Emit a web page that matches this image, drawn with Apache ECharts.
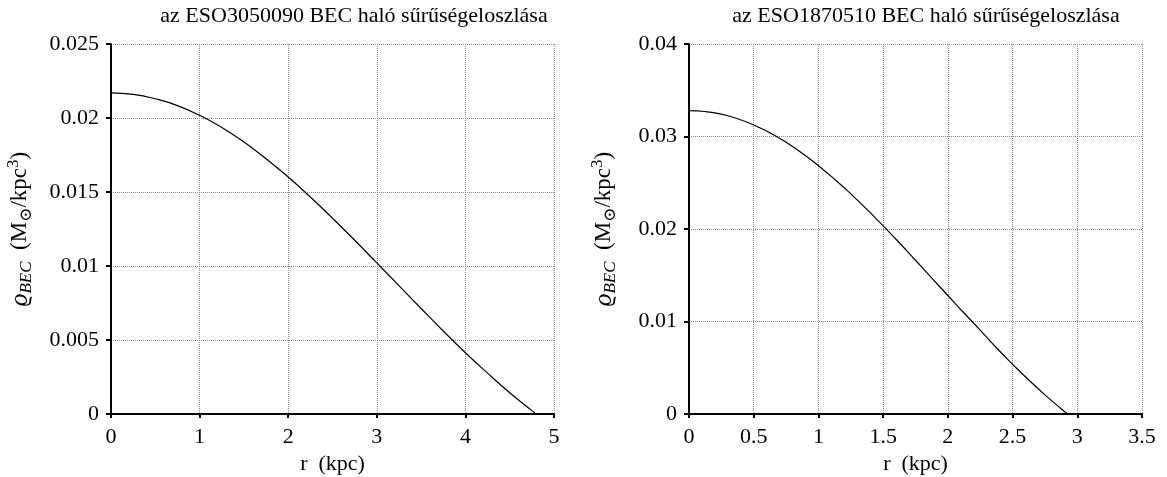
<!DOCTYPE html>
<html>
<head>
<meta charset="utf-8">
<script src="https://cdn.jsdelivr.net/npm/echarts@6/dist/echarts.min.js"></script>
<style>html,body{margin:0;padding:0;background:#fff}#c{width:1167px;height:477px}</style>
</head>
<body>
<div id="c"></div>
<script>
// Left panel: ESO3050090
const leftTitle = 'az ESO3050090 BEC haló sűrűségeloszlása';
const leftR   = [0, 0.25, 0.5, 0.75, 1, 1.25, 1.5, 1.75, 2, 2.25, 2.5, 2.75, 3, 3.25, 3.5, 3.75, 4, 4.25, 4.5, 4.75, 4.8];
const leftRho = [0.0217, 0.0216, 0.0213, 0.02084, 0.02018, 0.01936, 0.01838, 0.01725, 0.01601, 0.01466, 0.01323, 0.01174, 0.01021, 0.00867, 0.00713, 0.00561, 0.00414, 0.00276, 0.00144, 0.00023, 0];
// Right panel: ESO1870510
const rightTitle = 'az ESO1870510 BEC haló sűrűségeloszlása';
const rightR   = [0, 0.125, 0.25, 0.375, 0.5, 0.625, 0.75, 0.875, 1, 1.125, 1.25, 1.375, 1.5, 1.625, 1.75, 1.875, 2, 2.125, 2.25, 2.375, 2.5, 2.625, 2.75, 2.875, 2.925];
const rightRho = [0.0328, 0.0327, 0.03241, 0.03192, 0.03125, 0.0304, 0.02937, 0.02818, 0.02684, 0.02538, 0.0238, 0.02212, 0.02034, 0.01851, 0.01662, 0.01471, 0.01281, 0.01092, 0.00907, 0.00716, 0.00538, 0.00368, 0.00207, 0.00057, 0];
// Axis settings
const xLabel = 'r  (kpc)';
const leftX  = {min: 0, max: 5, interval: 1};
const leftY  = {min: 0, max: 0.025, interval: 0.005};
const rightX = {min: 0, max: 3.5, interval: 0.5};
const rightY = {min: 0, max: 0.04, interval: 0.01};

const FONT = '"Liberation Serif", "DejaVu Serif", serif';
const chart = echarts.init(document.getElementById('c'), null, {renderer: 'canvas'});

function pairs(xs, ys) { return xs.map((x, i) => [x, ys[i]]); }

const yName = '{rho|ϱ}{sub|BEC}{n|  (M}{sub|⊙}{n|/kpc}{sup|3}{n|)}';
const yNameRich = {
  rho: {fontFamily: FONT, fontSize: 25, fontStyle: 'italic', color: '#000', lineHeight: 30, verticalAlign: 'middle'},
  sub: {fontFamily: FONT, fontSize: 17, fontStyle: 'italic', color: '#000', lineHeight: 17, verticalAlign: 'bottom'},
  n:   {fontFamily: FONT, fontSize: 23, color: '#000', lineHeight: 30, verticalAlign: 'middle'},
  sup: {fontFamily: FONT, fontSize: 17, color: '#000', lineHeight: 17, verticalAlign: 'top'}
};

function xAxis(idx, cfg) {
  return {
    type: 'value', gridIndex: idx, min: cfg.min, max: cfg.max, interval: cfg.interval,
    name: xLabel, nameLocation: 'middle', nameGap: 39,
    nameTextStyle: {fontFamily: FONT, fontSize: 22, color: '#000'},
    axisLine: {show: true, onZero: false, lineStyle: {color: '#000', width: 2}},
    axisTick: {show: true, inside: false, length: 4, lineStyle: {color: '#000', width: 2}},
    axisLabel: {fontFamily: FONT, fontSize: 22, color: '#000', margin: 12},
    splitLine: {show: true, lineStyle: {color: '#888', width: 1, type: [1, 1]}}
  };
}
function yAxis(idx, cfg, gap) {
  return {
    type: 'value', gridIndex: idx, min: cfg.min, max: cfg.max, interval: cfg.interval,
    name: yName, nameLocation: 'middle', nameGap: gap, nameRotate: 90,
    nameTextStyle: {rich: yNameRich},
    axisLine: {show: true, onZero: false, lineStyle: {color: '#000', width: 2}},
    axisTick: {show: true, inside: false, length: 5, lineStyle: {color: '#000', width: 2}},
    axisLabel: {fontFamily: FONT, fontSize: 22, color: '#000', margin: 12},
    splitLine: {show: true, lineStyle: {color: '#888', width: 1, type: [1, 1]}}
  };
}

chart.setOption({
  animation: false,
  backgroundColor: '#fff',
  title: [
    {text: leftTitle, left: 349, top: 0, textAlign: 'center',
     textStyle: {fontFamily: FONT, fontSize: 22, fontWeight: 'normal', color: '#000'}},
    {text: rightTitle, left: 921, top: 0, textAlign: 'center',
     textStyle: {fontFamily: FONT, fontSize: 22, fontWeight: 'normal', color: '#000'}}
  ],
  grid: [
    {left: 111, right: 613, top: 44, bottom: 63, outerBoundsMode: 'none', containLabel: false},
    {left: 689, right: 25, top: 44, bottom: 63, outerBoundsMode: 'none', containLabel: false}
  ],
  xAxis: [xAxis(0, leftX), xAxis(1, rightX)],
  yAxis: [yAxis(0, leftY, 76), yAxis(1, rightY, 70)],
  series: [
    {type: 'line', xAxisIndex: 0, yAxisIndex: 0, data: pairs(leftR, leftRho), smooth: true,
     showSymbol: false, lineStyle: {color: '#000', width: 1.2}},
    {type: 'line', xAxisIndex: 1, yAxisIndex: 1, data: pairs(rightR, rightRho), smooth: true,
     showSymbol: false, lineStyle: {color: '#000', width: 1.2}}
  ]
});
</script>
</body>
</html>
